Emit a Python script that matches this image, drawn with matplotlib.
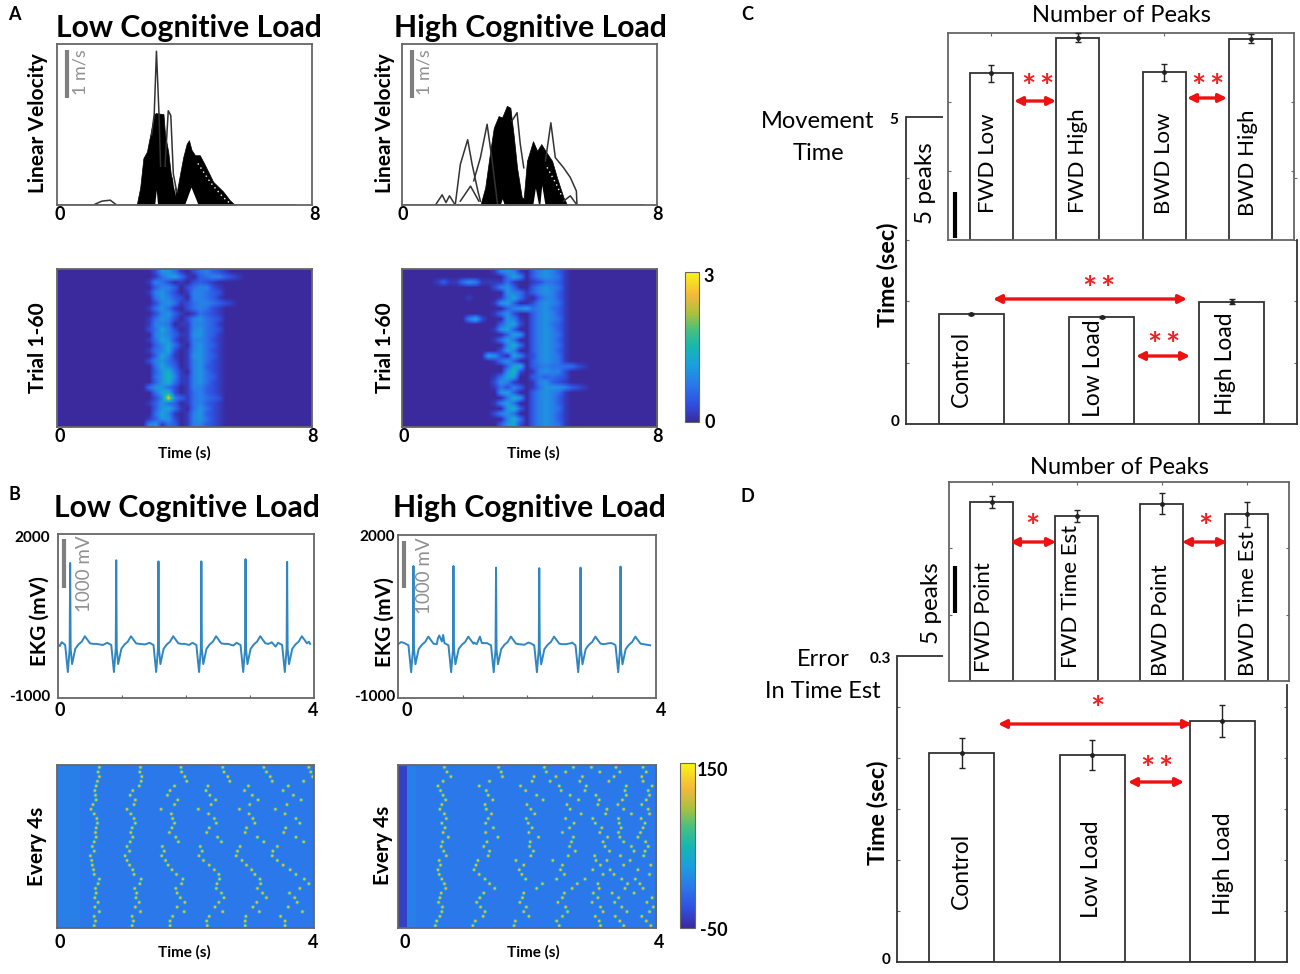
import numpy as np
import matplotlib
matplotlib.use("Agg")
import matplotlib.pyplot as plt
from matplotlib.colors import LinearSegmentedColormap
from matplotlib.lines import Line2D
from matplotlib.patches import FancyArrowPatch

W, H = 1300, 974
plt.rcParams['font.family'] = ['Lato', 'DejaVu Sans']

# --- panel A, velocity (m/s): outline of the black mass and the single traces
low_env_t = [2.50, 2.61, 2.71, 2.82, 2.97, 3.05, 3.10, 3.34, 3.39, 3.49, 3.57, 3.65, 3.75, 3.86, 3.96,
             4.07, 4.14, 4.22, 4.33, 4.48, 4.64, 4.90, 5.21, 5.42, 5.58]
low_env_v = [0, .36, .97, 1.10, 1.60, 1.88, 1.90, 1.88, 1.45, 1.10, .64, .44, .24, .64, .99,
             1.27, 1.34, 1.14, 1.03, 1.03, .83, .48, .28, .10, 0]
low_gap_t = [[3.08, 3.13, 3.17], [4.02, 4.22, 4.44], [3.60, 3.66, 3.74]]
low_gap_v = [[0, .30, 0], [0, .36, 0], [.90, .40, .16]]
low_speck_t = [4.42, 4.60, 4.80, 5.00, 5.20, 5.40]
low_speck_v = [.86, .68, .48, .32, .17, .05]
low_traces = [
    ([2.97, 3.05, 3.12, 3.20, 3.25], [1.45, 1.88, 3.18, 1.88, .80]),
    ([3.39, 3.49, 3.57, 3.65, 3.75], [.80, 1.95, 1.85, .64, .30]),
    ([1.20, 1.41, 1.67, 1.83], [.02, .08, .10, .02]),
    ([0.00, 2.50, 5.58, 7.46], [.01, .01, .01, .01]),
]

high_env_t = [2.46, 2.61, 2.77, 2.88, 3.03, 3.14, 3.29, 3.40, 3.50, 3.61, 3.76, 3.82, 3.92, 4.11, 4.24,
              4.37, 4.50, 4.71, 4.86, 5.07, 5.18]
high_env_v = [0, .36, 1.12, 1.60, 1.84, 1.81, 2.05, 2.01, 1.46, .77, .15, .15, .91, 1.32, 1.12,
              1.26, 1.12, .91, .57, .15, 0]
high_gap_t = [[4.12, 4.20, 4.30], [4.34, 4.40, 4.50], [3.10, 3.16, 3.22]]
high_gap_v = [[0, .34, 0], [0, .40, 0], [0, .12, 0]]
high_speck_t = [4.55, 4.70, 4.85, 5.00]
high_speck_v = [.78, .60, .42, .20]
high_traces = [
    ([1.05, 1.26, 1.38, 1.49, 1.67], [0, .21, .05, .19, 0]),
    ([1.67, 1.83, 2.06, 2.20, 2.38, 2.46], [0, .84, 1.35, .84, .29, .08]),
    ([2.25, 2.46, 2.67, 2.83, 3.00], [.50, .98, 1.67, .91, 0]),
    ([3.45, 3.61, 3.71, 3.82], [1.74, 1.91, 1.26, .77]),
    ([4.50, 4.67, 4.81, 5.07, 5.28, 5.47, 5.49], [.91, 1.70, .98, .77, .57, .29, 0]),
    ([1.83, 2.15, 2.41], [.08, .39, .08]),
    ([5.07, 5.28, 5.49], [.08, .19, 0]),
    ([0.00, 1.05, 5.49, 7.60], [.01, .01, .01, .01]),
]

# speed per trial, one hex digit per 0.2 s, read as digit x 0.17 m/s
low_rows = [
    "000000000000000266410245321",
    "000000000000000146741034553210",
    "00000000000000154201023210",
    "00000000000000035530245521",
    "00000000000000156420155432",
    "00000000000000046532055431",
    "0000000000000002564124554321",
    "00000000000000146410245421",
    "00000000000000025631014321",
    "00000000000000146520256432",
    "00000000000000155401155431",
    "00000000000000247520156432",
    "00000000000000056531166431",
    "00000000000000147620155421",
    "00000000000000035741056431",
    "00000000000000145720156421",
    "00000000000000037510166431",
    "00000000000000256420156421",
    "00000000000000047530156321",
    "00000000000000036841056421",
    "00000000000000046951156431",
    "00000000000000036841156421",
    "00000000000000466420155321",
    "00000000000000047820145321",
    "00000000000000025f53145432",
    "00000000000000136430145321",
    "00000000000000036741046421",
    "00000000000000047510156321",
    "00000000000000136620156421",
    "00000000000000561430155321",
]
high_rows = [
    "00000000000000156510356531",
    "00000000000000004750356541",
    "00000131146511114100124431",
    "00000000000000256300356541",
    "00000000000000006541356531",
    "00000000001000015741035531",
    "00000000000000167300256541",
    "00000000000000003567456431",
    "00000000000000146200356531",
    "00000000005820006510356541",
    "00000000000000036720356431",
    "00000000000000167300356531",
    "00000000000000003760356541",
    "00000000000000147400356531",
    "00000000000000005840356541",
    "00000000000000027500356531",
    "00000000000007620751256541",
    "00000000000000146300356541",
    "00000000000000003780345444421",
    "00000000000000006920156552",
    "00000000000000147700343432",
    "00000000000000265100156321",
    "00000000000000142530146665321",
    "00000000000000067300356541",
    "00000000000000004860356531",
    "00000000000000157400356531",
    "00000000000000006830356541",
    "00000000000000256400356531",
    "00000000000000005840356531",
    "00000000000000036720356541",
]

# --- panel B, EKG (mV): one beat, R peaks per panel
beat_dt = [-.14, -.078, -.036, -.008, .008, .03, .08, .13, .18, .23, .31, .36]
beat_v = [10, -30, -525, -100, -100, -380, -100, -20, 30, 130, 0, -10]
low_r_t = [.19, .91, 1.57, 2.24, 2.93, 3.58]
low_r_v = [1470, 1520, 1500, 1500, 1540, 1490]
low_extra_t = [0, .03, .06, .60, .70, 1.36, 1.98, 2.05, 2.66, 2.74, 3.34, 3.40, 3.92]
low_extra_v = [-20, -50, 20, -10, -30, -20, -10, -30, -10, -40, 20, -60, 30]
high_r_t = [.24, .86, 1.52, 2.19, 2.83, 3.45]
high_r_v = [1430, 1430, 1400, 1390, 1400, 1420]
high_extra_t = [0, .05, .62, .64, .68, .70, 1.18, 1.27, 1.30, 1.96, 2.02, 2.60, 2.70, 3.28, 3.35, 3.91]
high_extra_v = [-10, 30, 100, 150, 40, 160, 20, 130, 10, -20, 20, -10, 20, 10, -10, -30]

# beat times per row of the 4 s heat maps
low_beats = [
    [.66, 1.30, 1.93, 2.58, 3.22, 3.92], [.64, 1.29, 1.94, 2.60, 3.26, 3.95],
    [.66, 1.32, 1.99, 2.66, 3.32, 3.98], [.63, 1.31, 2.02, 2.69, 3.35, 3.84],
    [.61, 1.28, 1.83, 2.35, 2.98, 3.60], [.59, 1.18, 1.76, 2.32, 2.92, 3.52],
    [.60, 1.14, 1.72, 2.38, 3.04, 3.68], [.61, 1.22, 1.88, 2.47, 3.13, 3.80],
    [.56, 1.20, 1.83, 2.40, 3.00, 3.58], [.53, 1.09, 1.62, 2.20, 2.84, 3.40],
    [.58, 1.15, 1.78, 2.36, 2.99, 3.55], [.62, 1.20, 1.80, 2.45, 3.05, 3.72],
    [.63, 1.22, 1.83, 2.48, 3.08, 3.78], [.61, 1.17, 1.79, 2.37, 2.95, 3.56],
    [.60, 1.15, 1.75, 2.33, 2.93, 3.53], [.61, 1.18, 1.85, 2.50, 3.12, 3.72],
    [.58, 1.14, 1.89, 2.56, 3.22, 3.84], [.55, 1.09, 1.64, 2.23, 2.85, 3.43],
    [.58, 1.13, 1.67, 2.26, 2.81, 3.36], [.52, 1.06, 1.63, 2.21, 2.79, 3.35],
    [.54, 1.09, 1.69, 2.28, 2.88, 3.43], [.55, 1.13, 1.73, 2.37, 2.95, 3.52],
    [.57, 1.18, 1.79, 2.45, 3.03, 3.63], [.58, 1.20, 1.86, 2.52, 3.08, 3.72],
    [.66, 1.31, 1.96, 2.53, 3.16, 3.85], [.64, 1.29, 1.94, 2.49, 3.17, 3.92],
    [.60, 1.21, 1.85, 2.48, 3.12, 3.78], [.61, 1.24, 1.87, 2.56, 3.20, 3.62],
    [.59, 1.23, 1.92, 2.60, 3.26, 3.70], [.64, 1.28, 1.99, 2.52, 3.11, 3.74],
    [.59, 1.22, 1.87, 2.46, 3.05, 3.60], [.66, 1.30, 1.98, 2.58, 3.15, 3.82],
    [.58, 1.17, 1.80, 2.37, 2.94, 3.48], [.60, 1.19, 1.76, 2.33, 2.93, 3.55],
    [.58, 1.17, 1.76, 2.34, 2.93, 3.55],
]
high_beats = [
    [.72, 1.56, 2.27, 2.72, 3.00, 3.38, 3.80], [.76, 1.60, 2.30, 2.60, 3.13, 3.44, 3.85],
    [.82, 1.62, 2.11, 2.45, 2.86, 3.35, 3.78], [.70, 1.42, 2.08, 2.36, 2.82, 3.27, 3.80],
    [.62, 1.26, 1.90, 2.50, 2.92, 3.54, 3.94], [.66, 1.37, 1.98, 2.53, 2.90, 3.52, 3.88],
    [.70, 1.40, 2.15, 2.67, 3.07, 3.54, 3.90], [.74, 1.47, 2.25, 2.80, 3.12, 3.48, 3.85],
    [.68, 1.35, 2.00, 2.62, 3.10, 3.41, 3.78], [.65, 1.37, 2.06, 2.67, 3.24, 3.50, 3.88],
    [.72, 1.45, 2.12, 2.84, 3.22, 3.62, 3.90], [.75, 1.40, 1.99, 2.60, 3.02, 3.42, 3.77],
    [.68, 1.36, 2.02, 2.73, 3.06, 3.43, 3.83], [.73, 1.48, 2.08, 2.66, 3.16, 3.46, 3.80],
    [.70, 1.36, 2.03, 2.55, 3.13, 3.42, 3.76], [.78, 1.55, 2.18, 2.72, 3.25, 3.44, 3.72],
    [.69, 1.38, 2.05, 2.69, 3.18, 3.50, 3.84], [.67, 1.33, 2.04, 2.66, 3.21, 3.62, 3.88],
    [.71, 1.42, 2.10, 2.75, 3.28, 3.66, 3.83], [.75, 1.40, 2.06, 2.64, 3.05, 3.45, 3.81],
    [.64, 1.24, 1.83, 2.40, 3.07, 3.24, 3.60], [.66, 1.21, 1.95, 2.55, 3.14, 3.50, 3.92],
    [.62, 1.18, 1.88, 2.52, 3.02, 3.29, 3.72], [.64, 1.26, 1.92, 2.58, 3.18, 3.35, 3.90],
    [.68, 1.35, 1.98, 2.46, 2.90, 3.47, 3.68], [.72, 1.42, 2.24, 2.78, 3.10, 3.56, 3.75],
    [.74, 1.50, 2.15, 2.70, 3.12, 3.52, 3.80], [.67, 1.33, 1.95, 2.58, 3.03, 3.32, 3.66],
    [.65, 1.27, 1.93, 2.55, 3.10, 3.42, 3.94], [.63, 1.22, 1.89, 2.48, 3.01, 3.36, 3.86],
    [.69, 1.28, 1.99, 2.60, 3.14, 3.47, 3.96], [.68, 1.35, 1.95, 2.63, 3.18, 3.55, 3.90],
    [.65, 1.32, 2.03, 2.55, 3.06, 3.37, 3.78], [.60, 1.20, 1.82, 2.46, 3.12, 3.44, 3.85],
    [.58, 1.16, 1.80, 2.50, 3.14, 3.50, 3.92],
]

# --- panels C and D, bars
c_peaks_names = ["FWD Low", "FWD High", "BWD Low", "BWD High"]
c_peaks = [16.9, 20.5, 17.0, 20.4]
c_peaks_err = [.85, .45, .85, .45]
c_time_names = ["Control", "Low Load", "High Load"]
c_time = [1.79, 1.74, 1.99]
c_time_err = [.02, .02, .04]
d_peaks_names = ["FWD Point", "FWD Time Est", "BWD Point", "BWD Time Est"]
d_peaks = [18.9, 17.4, 18.7, 17.6]
d_peaks_err = [.6, .6, 1.1, 1.3]
d_time = [.205, .203, .236]
d_time_err = [.0144, .0144, .0155]

parula = LinearSegmentedColormap.from_list("parula_like", [
    (0, '#3a2a9e'), (.12, '#2f50e0'), (.25, '#2b78ea'), (.38, '#1aa0dc'), (.5, '#16b7b0'),
    (.62, '#4cc07c'), (.72, '#a8c040'), (.85, '#f5b93a'), (1, '#f8f513')])

GRAY = '#666666'
fig = plt.figure(figsize=(W / 100, H / 100), dpi=100, facecolor='white')


def add_ax(x0, y0, x1, y1, **kw):
    return fig.add_axes([x0 / W, 1 - y1 / H, (x1 - x0) / W, (y1 - y0) / H], **kw)


def ptext(x, y, s, size=11, weight='normal', color='k', rot=0, ha='center', va='center'):
    fig.text(x / W, 1 - y / H, s, fontsize=size, fontweight=weight, color=color, rotation=rot,
             ha=ha, va=va, zorder=20)


def pline(x0, y0, x1, y1, color='k', lw=1.0):
    fig.add_artist(Line2D([x0 / W, x1 / W], [1 - y0 / H, 1 - y1 / H], color=color, lw=lw,
                          solid_capstyle='butt', zorder=15))


def arrow(x0, x1, y):
    fig.add_artist(FancyArrowPatch((x0 / W, 1 - y / H), (x1 / W, 1 - y / H), transform=fig.transFigure,
                                   arrowstyle='<|-|>', mutation_scale=12, lw=2.4, color='#ee1111',
                                   shrinkA=0, shrinkB=0, zorder=16))


def stars(x, y, n):
    if n == 1:
        ptext(x, y + 7, "*", size=24, weight='bold', color='#ee2222')
    else:
        ptext(x - 9, y + 7, "*", size=24, weight='bold', color='#ee2222')
        ptext(x + 9, y + 7, "*", size=24, weight='bold', color='#ee2222')


def frame(ax, xlim, ylim):
    ax.set_xlim(*xlim)
    ax.set_ylim(*ylim)
    ax.set_xticks([])
    ax.set_yticks([])
    for sp in ax.spines.values():
        sp.set_color(GRAY)
        sp.set_linewidth(1.3)


def velocity_panel(box, env_t, env_v, gap_t, gap_v, speck_t, speck_v, traces):
    ax = add_ax(*box)
    frame(ax, (0, 8), (0, 3.33))
    ax.fill_between(env_t, 0, env_v, color='k', lw=0.5)
    for gx, gy in zip(gap_t, gap_v):
        ax.fill(gx, gy, color='white', lw=0)
    ax.plot(speck_t, speck_v, color='white', lw=1, ls=(0, (1, 2.5)))
    for tx, ty in traces:
        ax.plot(tx, ty, color='#333333', lw=1.1)
    return ax


def speed_heat(box, rows):
    ax = add_ax(*box)
    mat = np.array([[int(c, 16) * .17 for c in r.ljust(40, '0')] for r in rows])
    im = ax.imshow(mat, cmap=parula, vmin=0, vmax=3, aspect='auto', interpolation='bilinear',
                   extent=[0, 8, len(rows), 0])
    frame(ax, (0, 8), (len(rows), 0))
    return im


def ekg_panel(box, r_t, r_v, extra_t, extra_v):
    ax = add_ax(*box)
    frame(ax, (0, 4), (-1000, 2000))
    pts = list(zip(extra_t, extra_v))
    for rt, rv in zip(r_t, r_v):
        pts += [(rt + d, v) for d, v in zip(beat_dt, beat_v)]
        pts.append((rt, rv))
    pts.sort()
    ax.plot([p[0] for p in pts], [p[1] for p in pts], color='#2f86c1', lw=1.4)
    ax.set_xticks([1, 2, 3])
    ax.tick_params(length=2, color=GRAY, labelbottom=False, direction='in')


def beat_heat(box, beats, strip):
    ax = add_ax(*box)
    bg = np.zeros((1, 201))
    for col, level in strip:
        bg[0, col] = level
    im = ax.imshow(bg, cmap=parula, vmin=-50, vmax=150, aspect='auto', interpolation='nearest',
                   extent=[0, 4, len(beats), 0])
    ts = [t for row in beats for t in row]
    ys = [i + .5 for i, row in enumerate(beats) for t in row]
    ax.scatter(ts, ys, c=[40] * len(ts), cmap=parula, vmin=-50, vmax=150, s=11, lw=0, alpha=.7)
    ax.scatter(ts, ys, c=[116] * len(ts), cmap=parula, vmin=-50, vmax=150, s=3.5, lw=0)
    frame(ax, (0, 4), (len(beats), 0))
    return im


def bar_axes(box, xlim, ylim, vals, errs, yticks, inset=False):
    ax = add_ax(*box)
    pos = np.arange(1, len(vals) + 1)
    ax.bar(pos, vals, width=.5, facecolor='white', edgecolor='#333333', lw=1.3, zorder=2)
    ax.errorbar(pos, vals, yerr=errs, fmt='o', ms=2.5, color='#222222', lw=1, capsize=2.5, zorder=3,
                clip_on=False)
    ax.set_xlim(*xlim)
    ax.set_ylim(*ylim)
    ax.set_xticks(pos)
    ax.set_yticks(yticks)
    ax.tick_params(length=2.5, direction='in', color=GRAY, labelbottom=False, labelleft=False,
                   top=inset, right=True)
    for sp in ax.spines.values():
        sp.set_color(GRAY if inset else '#333333')
        sp.set_linewidth(1.3)
    ax.set_facecolor('white' if inset else 'none')
    return ax


# ---------- A
velocity_panel((57, 44, 312, 205), low_env_t, low_env_v, low_gap_t, low_gap_v, low_speck_t, low_speck_v, low_traces)
velocity_panel((402, 44, 657, 205), high_env_t, high_env_v, high_gap_t, high_gap_v, high_speck_t, high_speck_v,
               high_traces)
im_a = speed_heat((57, 269, 312, 427), low_rows)
speed_heat((402, 269, 657, 427), high_rows)
cax = add_ax(685, 272, 699, 422)
cb = fig.colorbar(im_a, cax=cax, ticks=[])
cb.outline.set_edgecolor(GRAY)

# ---------- B
ekg_panel((58, 534, 314, 698), low_r_t, low_r_v, low_extra_t, low_extra_v)
ekg_panel((398, 535, 656, 698), high_r_t, high_r_v, high_extra_t, high_extra_v)
im_b = beat_heat((57, 765, 314, 928), low_beats, [(c, 5) for c in range(0, 18)])
beat_heat((398, 765, 656, 928), high_beats, [(c, -35) for c in range(0, 7)] + [(c, 5) for c in range(7, 14)])
cax = add_ax(680, 763, 695, 928)
cb = fig.colorbar(im_b, cax=cax, ticks=[])
cb.outline.set_edgecolor(GRAY)

# ---------- C
ax = bar_axes((906, 117, 1297, 424), (.5, 3.5), (0, 5), c_time, c_time_err, [1, 2, 3, 4])
ax.spines['top'].set_visible(False)
ax.spines['right'].set_bounds(0, 3)
bar_axes((948, 33, 1294, 240), (.5, 4.5), (0, 21), c_peaks, c_peaks_err, [7, 14], inset=True)
pline(906, 117, 943, 117, '#333333', 1.3)

# ---------- D
ax = bar_axes((897, 656, 1287, 962), (.5, 3.5), (0, .3), d_time, d_time_err, [.05, .1, .15, .2, .25])
ax.spines['top'].set_visible(False)
ax.spines['right'].set_bounds(0, .272)
bar_axes((949, 482, 1289, 681), (.5, 4.5), (0, 21), d_peaks, d_peaks_err, [7, 14], inset=True)
pline(897, 656, 943, 656, '#333333', 1.3)

# scale bars
pline(67, 50, 67, 98, '#7f7f7f', 3)
pline(412, 50, 412, 98, '#7f7f7f', 3)
pline(64, 539, 64, 588, '#7f7f7f', 3)
pline(404, 541, 404, 588, '#7f7f7f', 3)
pline(955, 192, 955, 238, 'k', 3)
pline(955, 566, 955, 613, 'k', 3)
ptext(80, 72, "1 m/s", 13, color='#909090', rot=90)
ptext(425, 72, "1 m/s", 13, color='#909090', rot=90)
ptext(85, 574, "1000 mV", 13.5, color='#909090', rot=90)
ptext(425, 576, "1000 mV", 13.5, color='#909090', rot=90)

# titles, panel letters
for x, y, s in [(189, 28, "Low Cognitive Load"), (530, 28, "High Cognitive Load"),
                (187, 508, "Low Cognitive Load"), (529, 508, "High Cognitive Load")]:
    ptext(x, y, s, 21.7, 'bold')
for x, y, s in [(14, 14, "A"), (14, 495, "B"), (747, 14, "C"), (747, 496, "D")]:
    ptext(x, y, s, 13, 'bold')

# left hand labels
for x, y, s in [(38, 123, "Linear Velocity"), (385, 123, "Linear Velocity"),
                (38, 348, "Trial 1-60"), (385, 348, "Trial 1-60"),
                (40, 621, "EKG (mV)"), (385, 622, "EKG (mV)"),
                (37, 846, "Every 4s"), (383, 845, "Every 4s")]:
    ptext(x, y, s, 15, 'bold', rot=90)

# tick labels of A and B
for x, y, s in [(60, 214, "0"), (315, 214, "8"), (403, 214, "0"), (657, 214, "8"),
                (60, 437, "0"), (313, 437, "8"), (404, 437, "0"), (657, 437, "8"),
                (60, 710, "0"), (313, 710, "4"), (407, 710, "0"), (661, 710, "4"),
                (60, 942, "0"), (313, 942, "4"), (405, 942, "0"), (659, 942, "4"),
                (709, 276, "3"), (710, 423, "0")]:
    ptext(x, y, s, 13, 'bold')
for x, y, s in [(50, 538, "2000"), (50, 697, "-1000"), (395, 537, "2000"), (395, 697, "-1000")]:
    ptext(x, y, s, 11, 'bold', ha='right')
ptext(697, 770, "150", 13, 'bold', ha='left')
ptext(700, 930, "-50", 13, 'bold', ha='left')
for x, y in [(184, 453), (533, 453), (184, 952), (533, 952)]:
    ptext(x, y, "Time (s)", 11, 'bold')

# C and D texts
ptext(1121, 15, "Number of Peaks", 17)
ptext(1119, 468, "Number of Peaks", 17)
ptext(818, 121, "Movement", 17)
ptext(818, 153, "Time", 17)
ptext(823, 660, "Error", 17)
ptext(823, 691, "In Time Est", 17)
ptext(894, 120, "5", 11, 'bold')
ptext(895, 422, "0", 11, 'bold')
ptext(880, 659, "0.3", 11, 'bold')
ptext(886, 960, "0", 11, 'bold')
ptext(925, 183, "5 peaks", 17.5, rot=90)
ptext(932, 603, "5 peaks", 17.5, rot=90)
ptext(887, 275, "Time (sec)", 16.8, 'bold', rot=90)
ptext(877, 813, "Time (sec)", 16.8, 'bold', rot=90)

c_label_pos = [(988, 213), (1078, 213), (1164, 214), (1248, 216)]
d_label_pos = [(984, 672), (1071, 668), (1161, 676), (1248, 676)]
for (x, y), s in zip(c_label_pos, c_peaks_names):
    ptext(x, y, s, 16, rot=90, va='bottom')
for (x, y), s in zip(d_label_pos, d_peaks_names):
    ptext(x, y, s, 16, rot=90, va='bottom')
for (x, y), s in zip([(961, 407), (1093, 417), (1226, 415)], c_time_names):
    ptext(x, y, s, 16.5, rot=90, va='bottom')
for (x, y), s in zip([(961, 909), (1092, 918), (1224, 915)], c_time_names):
    ptext(x, y, s, 16.5, rot=90, va='bottom')

# significance arrows
arrow(1014, 1056, 101)
arrow(1187, 1227, 98)
arrow(993, 1187, 299)
arrow(1136, 1190, 356)
arrow(1010, 1056, 542)
arrow(1182, 1227, 542)
arrow(998, 1192, 724)
arrow(1128, 1184, 782)
stars(1037, 82, 2)
stars(1207, 82, 2)
stars(1098, 284, 2)
stars(1163, 339, 2)
stars(1032, 521, 1)
stars(1205, 521, 1)
stars(1097, 704, 1)
stars(1156, 764, 2)

fig.savefig("out.png", dpi=100)
